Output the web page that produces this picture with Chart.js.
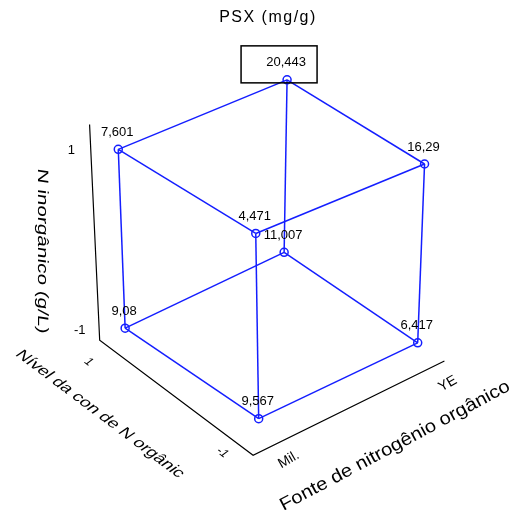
<!DOCTYPE html>
<html>
<head>
<meta charset="utf-8">
<script src="https://cdn.jsdelivr.net/npm/chart.js@4.4.1/dist/chart.umd.min.js"></script>
<style>
  html, body { margin: 0; padding: 0; background: #fff; }
  #wrap { width: 512px; height: 510px; }
</style>
</head>
<body>
<div id="wrap"><canvas id="cubeChart" width="512" height="510"></canvas></div>
<script>
// factor levels (coded) and response PSX (mg/g)
var fonteLevels = ['Mil.', 'YE'];
var nivelLevels = ['-1', '1'];
var inorgLevels = ['-1', '1'];

var runFonte = [-1, 1, -1, 1, -1, 1, -1, 1];
var runNivel = [-1, -1, 1, 1, -1, -1, 1, 1];
var runInorg = [-1, -1, -1, -1, 1, 1, 1, 1];
var psx = [9.567, 6.417, 9.08, 11.007, 4.471, 16.29, 7.601, 20.443];

// cube edges as pairs of run index
var edges = [[0,1],[0,2],[1,3],[2,3],[4,5],[4,6],[5,7],[6,7],[0,4],[1,5],[2,6],[3,7]];

// projection frames (bottom face / top face) in pixels
var frame = {
  bottom: { cx: 271.75, cy: 337.25, ax: 81.25, ay: -38.75, bx: -68.25, by: -46.25 },
  top:    { cx: 271.75, cy: 154.5,  ax: 86.25, ay: -35.5,  bx: -70.25, by: -43 }
};

function project(f, n, h) {
  var t = (h + 1) / 2;
  var B = frame.bottom, T = frame.top;
  function L(k) { return B[k] + (T[k] - B[k]) * t; }
  return {
    x: L('cx') + L('ax') * f + L('bx') * n,
    y: L('cy') + L('ay') * f + L('by') * n
  };
}

var blue = 'rgb(20,30,255)';
var pts = psx.map(function (v, i) { return project(runFonte[i], runNivel[i], runInorg[i]); });

var datasets = [];

// axis frame
var corner = project(-1.44, -1.44, -1);
var fonteEnd = project(1.0, -1.40, -1);
var nivelEnd = project(-1.32, 1.0, -1);
var vertTop = project(-1.32, 1.0, 1.4);
datasets.push({
  data: [vertTop, nivelEnd, corner, fonteEnd],
  showLine: true, borderColor: '#000', borderWidth: 1.2,
  pointRadius: 0, fill: false
});

edges.forEach(function (e) {
  datasets.push({
    data: [pts[e[0]], pts[e[1]]],
    showLine: true, borderColor: blue, borderWidth: 1.5,
    pointRadius: 0, fill: false
  });
});

datasets.push({
  data: pts,
  showLine: false,
  pointStyle: 'circle', pointRadius: 4,
  pointBorderColor: blue, pointBackgroundColor: '#fff', pointBorderWidth: 1.5
});
var pointSet = datasets.length - 1;

function fmt(v) { return String(v).replace('.', ','); }

function rotText(ctx, txt, x, y, ang, font, width, skew) {
  ctx.save();
  ctx.translate(x, y);
  ctx.rotate(ang * Math.PI / 180);
  if (skew) ctx.transform(1, 0, skew, 1, 0, 0);
  ctx.font = font;
  ctx.textAlign = 'center';
  ctx.textBaseline = 'middle';
  if (width) {
    var w = ctx.measureText(txt).width;
    ctx.scale(width / w, 1);
  }
  ctx.fillText(txt, 0, 0);
  ctx.restore();
}

var labelsPlugin = {
  id: 'cubeLabels',
  afterDraw: function (chart) {
    var ctx = chart.ctx;
    var meta = chart.getDatasetMeta(pointSet);
    ctx.save();
    ctx.fillStyle = '#000';
    ctx.font = '13px "Liberation Sans", Arial, sans-serif';
    ctx.textAlign = 'center';
    ctx.textBaseline = 'middle';
    meta.data.forEach(function (el, i) {
      ctx.fillText(fmt(psx[i]), el.x - 1, el.y - 17);
    });
    // box around maximum
    var iMax = psx.indexOf(Math.max.apply(null, psx));
    var m = meta.data[iMax];
    ctx.strokeStyle = '#000';
    ctx.lineWidth = 1.5;
    ctx.strokeRect(m.x - 46, m.y - 34, 76, 37);

    // title
    ctx.font = '16px "Liberation Sans", Arial, sans-serif';
    ctx.letterSpacing = '1.5px';
    ctx.fillText('PSX (mg/g)', 268, 18);
    ctx.letterSpacing = '0px';

    var sx = chart.scales.x, sy = chart.scales.y;
    function P(p) { return { x: sx.getPixelForValue(p.x), y: sy.getPixelForValue(p.y) }; }

    // vertical axis ticks
    inorgLevels.forEach(function (lab) {
      var p = P(project(-1.32, 1.0, Number(lab)));
      rotText(ctx, lab, p.x - 20, p.y - 10, 0, '13px "Liberation Sans", Arial, sans-serif');
    });
    // nivel axis ticks
    nivelLevels.forEach(function (lab) {
      var p = P(project(-1.42, Number(lab), -1));
      rotText(ctx, lab, p.x - 3, p.y + 18, 37, '12px "Liberation Sans", Arial, sans-serif', null, -0.3);
    });
    // fonte axis ticks
    fonteLevels.forEach(function (lab, k) {
      var p = P(project(k === 0 ? -1 : 1, -1.42, -1));
      rotText(ctx, lab, p.x + 2, p.y + 22, -30, '14px "Liberation Sans", Arial, sans-serif');
    });

    // axis titles
    rotText(ctx, 'N inorgânico (g/L)', 42, 251, 90, '15px "Liberation Sans", Arial, sans-serif', 165, -0.15);
    rotText(ctx, 'Nível da con de N orgânic', 100, 414, 37, '15px "Liberation Sans", Arial, sans-serif', 205, -0.35);
    rotText(ctx, 'Fonte de nitrogênio orgânico', 395, 446, -28, '18px "Liberation Sans", Arial, sans-serif', 258, 0);
    ctx.restore();
  }
};

new Chart(document.getElementById('cubeChart'), {
  type: 'scatter',
  data: { datasets: datasets },
  options: {
    responsive: false,
    animation: false,
    layout: { padding: 0 },
    plugins: { legend: { display: false }, tooltip: { enabled: false } },
    scales: {
      x: { type: 'linear', min: 0, max: 512, display: false },
      y: { type: 'linear', min: 0, max: 510, reverse: true, display: false }
    }
  },
  plugins: [labelsPlugin]
});
</script>
</body>
</html>
